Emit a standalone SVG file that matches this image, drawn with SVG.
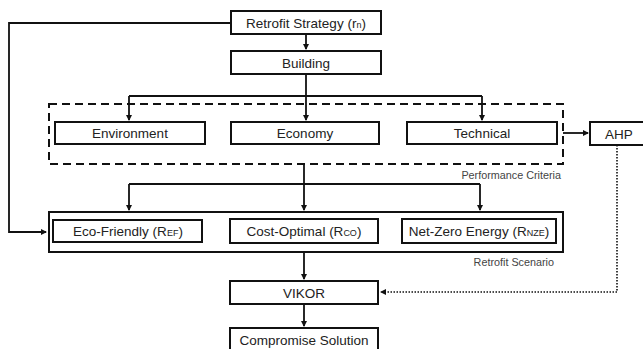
<svg xmlns="http://www.w3.org/2000/svg" width="643" height="349" viewBox="0 0 643 349">
<defs>
<marker id="ah" markerWidth="6" markerHeight="6" refX="5" refY="3" orient="auto" markerUnits="userSpaceOnUse">
<path d="M0,0 L6,3 L0,6 z" fill="#111"/>
</marker>
<style>
.box{fill:#fff;stroke:#111;stroke-width:2}
.t{font-family:"Liberation Sans",Arial,sans-serif;font-size:13.5px;fill:#222;text-anchor:middle}
.s{font-size:9px}
.lbl{font-family:"Liberation Sans",Arial,sans-serif;font-size:10.8px;fill:#444;text-anchor:end}
.c{fill:none;stroke:#111;stroke-width:1.8}
.d{fill:none;stroke:#111;stroke-width:1.6;stroke-dasharray:1.5 1.5}
</style>
</defs>
<rect width="643" height="349" fill="#fff"/>
<g id="performance-criteria-group">
<rect x="49" y="104" width="514" height="60" fill="none" stroke="#111" stroke-width="2" stroke-dasharray="8 5"/>
<text class="lbl" x="561" y="179">Performance Criteria</text>
</g>
<g id="retrofit-scenario-group">
<rect x="49" y="212" width="514" height="40" class="box"/>
<text class="lbl" x="554" y="266">Retrofit Scenario</text>
</g>
<g id="connectors">
<path class="c" d="M231,23 H9 V232 H46" marker-end="url(#ah)"/>
<path class="c" d="M306,34 V49" marker-end="url(#ah)"/>
<path class="c" d="M306,74 V96"/>
<path class="c" d="M129,96 H482"/>
<path class="c" d="M129,96 V120" marker-end="url(#ah)"/>
<path class="c" d="M306,96 V120" marker-end="url(#ah)"/>
<path class="c" d="M482,96 V120" marker-end="url(#ah)"/>
<path class="c" d="M563,133 H588" marker-end="url(#ah)"/>
<path class="c" d="M304,164 V184"/>
<path class="c" d="M129,184 H480"/>
<path class="c" d="M129,184 V210" marker-end="url(#ah)"/>
<path class="c" d="M304,184 V210" marker-end="url(#ah)"/>
<path class="c" d="M480,184 V210" marker-end="url(#ah)"/>
<path class="c" d="M304,252 V279" marker-end="url(#ah)"/>
<path class="c" d="M304,304 V326" marker-end="url(#ah)"/>
<path class="d" d="M617,145 V292 H381" marker-end="url(#ah)"/>
</g>
<g id="retrofit-strategy">
<rect x="231" y="11" width="150" height="23" class="box"/>
<text class="t" x="306" y="27.5">Retrofit Strategy (r<tspan class="s">n</tspan>)</text>
</g>
<g id="building">
<rect x="231" y="51" width="150" height="23" class="box"/>
<text class="t" x="306" y="67.5">Building</text>
</g>
<g id="environment">
<rect x="55" y="122" width="150" height="22" class="box"/>
<text class="t" x="130" y="138">Environment</text>
</g>
<g id="economy">
<rect x="231" y="122" width="148" height="22" class="box"/>
<text class="t" x="305" y="138">Economy</text>
</g>
<g id="technical">
<rect x="407" y="122" width="150" height="22" class="box"/>
<text class="t" x="482" y="138">Technical</text>
</g>
<g id="ahp">
<rect x="590" y="122" width="60" height="23" class="box"/>
<text class="t" x="619" y="138.5">AHP</text>
</g>
<g id="eco-friendly">
<rect x="53" y="220" width="149" height="22" class="box"/>
<text class="t" x="128" y="236">Eco-Friendly (R<tspan class="s">EF</tspan>)</text>
</g>
<g id="cost-optimal">
<rect x="230" y="219" width="148" height="24" class="box"/>
<text class="t" x="304" y="236">Cost-Optimal (R<tspan class="s">CO</tspan>)</text>
</g>
<g id="net-zero-energy">
<rect x="402" y="219" width="154" height="24" class="box"/>
<text class="t" x="479" y="236">Net-Zero Energy (R<tspan class="s">NZE</tspan>)</text>
</g>
<g id="vikor">
<rect x="230" y="281" width="148" height="23" class="box"/>
<text class="t" x="304" y="297.5">VIKOR</text>
</g>
<g id="compromise-solution">
<rect x="230" y="328" width="148" height="24" class="box"/>
<text class="t" x="304" y="345">Compromise Solution</text>
</g>
</svg>
